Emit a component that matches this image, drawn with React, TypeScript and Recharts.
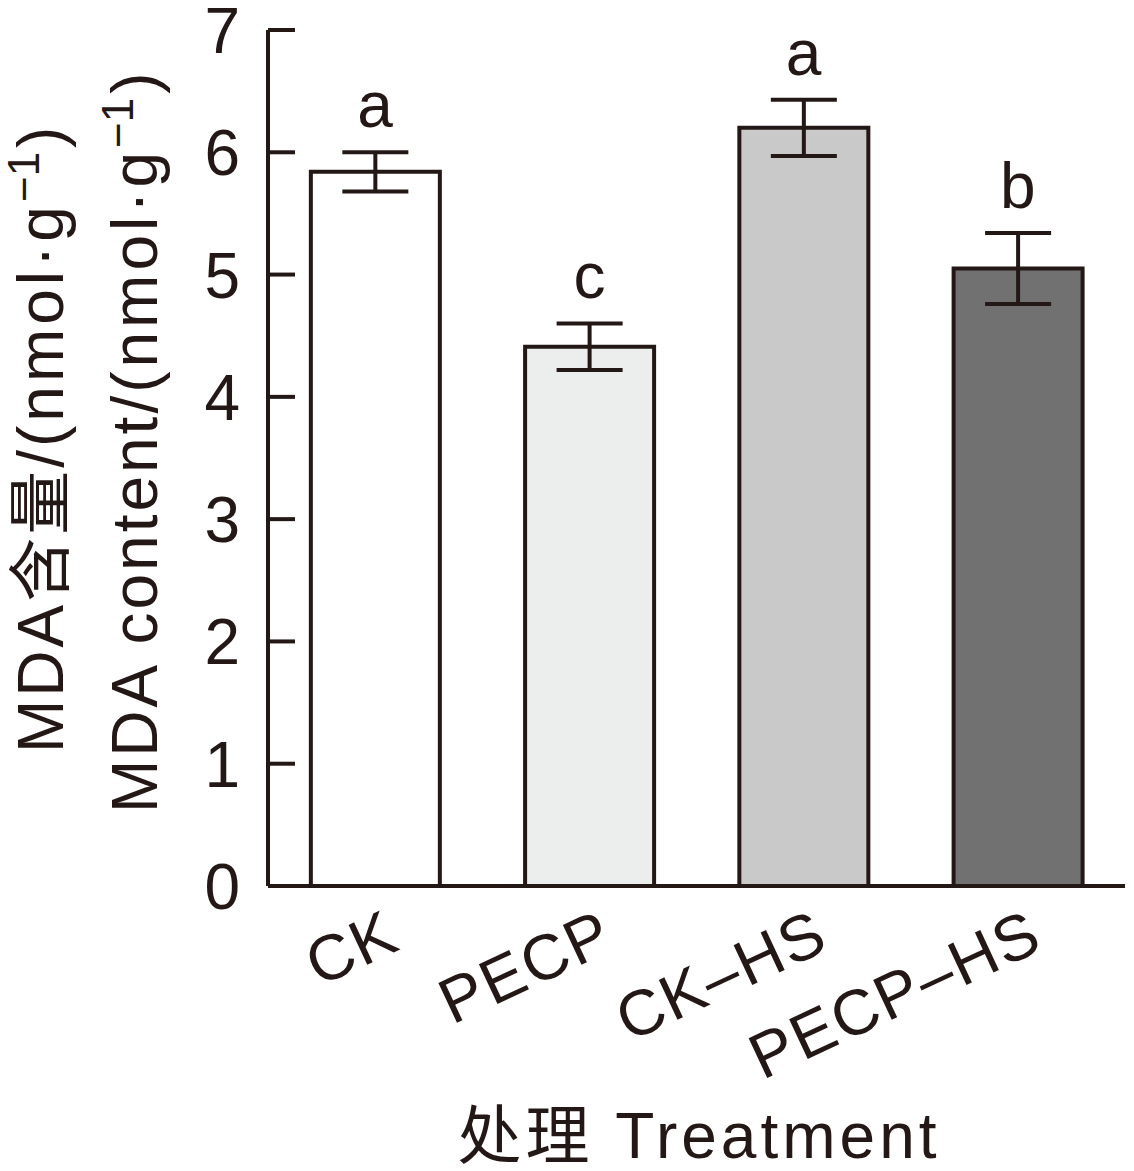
import { ComposedChart, Bar, Cell, ErrorBar, Line, LabelList, XAxis, YAxis } from 'recharts';

const categories = ['CK', 'PECP', 'CK-HS', 'PECP-HS'];
const mdaValues = [5.84, 4.41, 6.2, 5.05];
const mdaErrors = [0.16, 0.19, 0.23, 0.29];
const letters = ['a', 'c', 'a', 'b'];
const yTicks = [0, 1, 2, 3, 4, 5, 6, 7];

const COLORS = ['#ffffff', '#eceeed', '#c9c9c9', '#717171'];
const INK = '#231815';
const FONT = '"Liberation Sans", Arial, "Noto Sans CJK SC", sans-serif';

const data = categories.map((name, i) => ({
    name,
    value: mdaValues[i],
    err: mdaErrors[i],
    top: mdaValues[i] + mdaErrors[i],
    sig: letters[i],
}));

function YTick({ x, y, payload }: any) {
    return (
        <g>
            <line x1={x} y1={y} x2={x + 27} y2={y} stroke={INK} strokeWidth={4} />
            <text x={x - 28} y={y} dy={23} textAnchor="end" fontSize={64} fill={INK} fontFamily={FONT}>
                {payload.value}
            </text>
        </g>
    );
}

function XTick({ x, y, payload }: any) {
    const tx = x + 28;
    const ty = y + 62;
    return (
        <text x={tx} y={ty} textAnchor="end" fontSize={64} fill={INK} fontFamily={FONT} letterSpacing={2}
            transform={`rotate(-25, ${tx}, ${ty})`}>
            {payload.value.replace('-', '\u2013')}
        </text>
    );
}

// the unit part "(nmol·g-1)" with a superscript
function Unit() {
    return (
        <tspan letterSpacing={4}>
            (nmol·g<tspan dy={-24} fontSize={44} letterSpacing={0}>−1</tspan><tspan dy={24} dx={4}>)</tspan>
        </tspan>
    );
}

function YLabel() {
    return (
        <g fontSize={64} fill={INK} fontFamily={FONT} letterSpacing={3}>
            <text x={63} y={753} transform="rotate(-90, 63, 753)">
                MDA含量/<Unit />
            </text>
            <text x={157} y={813} transform="rotate(-90, 157, 813)">
                MDA content/<Unit />
            </text>
        </g>
    );
}

function XLabel() {
    return (
        <text x={699} y={1158} textAnchor="middle" fontSize={64} fill={INK} fontFamily={FONT} letterSpacing={4}>
            处理 Treatment
        </text>
    );
}

function SigLabel({ x, y, value }: any) {
    return (
        <text x={x} y={y - 25} textAnchor="middle" fontSize={64} fill={INK} fontFamily={FONT}>
            {value}
        </text>
    );
}

export default function App() {
    return (
        <div style={{ position: 'absolute', left: 0, top: 0, background: '#fff' }}>
            <ComposedChart width={1134} height={1171} data={data}
                margin={{ top: 30, right: 9, bottom: 0, left: 0 }} barCategoryGap="20%">
                <XAxis dataKey="name" height={285} tickSize={0} tickMargin={0} tickLine={false}
                    axisLine={{ stroke: INK, strokeWidth: 4 }} tick={<XTick />} interval={0}
                    label={<XLabel />} />
                <YAxis width={268} domain={[0, 7]} ticks={yTicks} type="number" tickSize={0} tickMargin={0}
                    tickLine={false} axisLine={{ stroke: INK, strokeWidth: 4 }} tick={<YTick />}
                    label={<YLabel />} />
                <Bar dataKey="value" stroke={INK} strokeWidth={4} isAnimationActive={false}>
                    {data.map((_, index) => (
                        <Cell key={`cell-${index}`} fill={COLORS[index]} />
                    ))}
                    <ErrorBar dataKey="err" width={33} strokeWidth={4} stroke={INK} direction="y" />
                </Bar>
                <Line dataKey="top" stroke="none" dot={false} activeDot={false} legendType="none"
                    isAnimationActive={false}>
                    <LabelList dataKey="sig" content={<SigLabel />} />
                </Line>
            </ComposedChart>
        </div>
    );
}
